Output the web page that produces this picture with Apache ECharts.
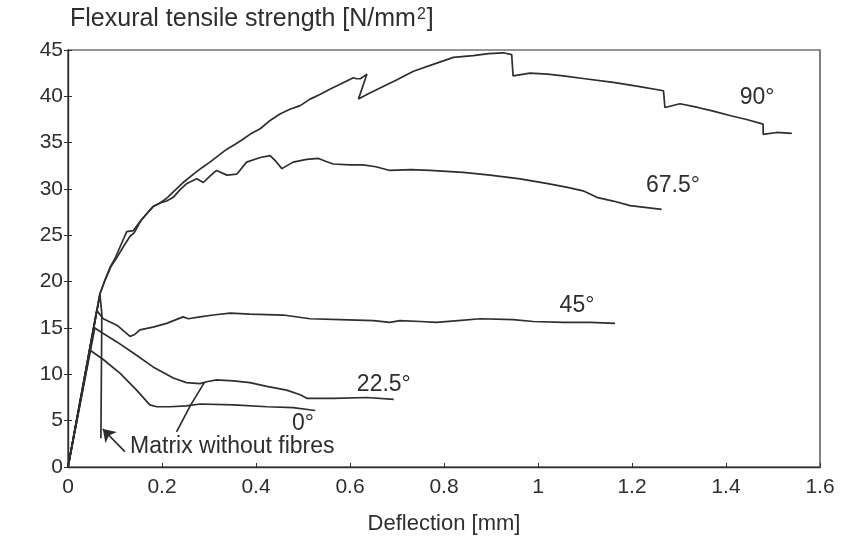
<!DOCTYPE html>
<html>
<head>
<meta charset="utf-8">
<script src="https://cdn.jsdelivr.net/npm/echarts@6/dist/echarts.min.js"></script>
<style>
  html, body { margin: 0; padding: 0; background: #ffffff; }
  #chart { width: 841px; height: 536px; }
</style>
</head>
<body>
<div id="chart"></div>
<script>
// Load–deflection curves of fibre-reinforced specimens, by fibre orientation
const curve90 = [
  [0, 0], [0.035, 9.6], [0.068, 18.7], [0.079, 20.2], [0.09, 21.6], [0.1, 22.5], [0.112, 23.9],
  [0.125, 25.4], [0.139, 25.5], [0.152, 26.4], [0.167, 27.3], [0.181, 28.1], [0.196, 28.5],
  [0.21, 29.0], [0.224, 29.7], [0.245, 30.7], [0.267, 31.6], [0.285, 32.3], [0.302, 32.9],
  [0.32, 33.6], [0.338, 34.3], [0.355, 34.8], [0.373, 35.4], [0.39, 36.0], [0.409, 36.5],
  [0.43, 37.4], [0.451, 38.1], [0.472, 38.6], [0.494, 39.0], [0.515, 39.7], [0.536, 40.2],
  [0.558, 40.8], [0.579, 41.3], [0.595, 41.7], [0.607, 42.0], [0.614, 41.9], [0.622, 41.9],
  [0.636, 42.4], [0.618, 39.7], [0.64, 40.3], [0.664, 40.9], [0.7, 41.8], [0.735, 42.7],
  [0.78, 43.5], [0.82, 44.2], [0.862, 44.4], [0.895, 44.6], [0.926, 44.7], [0.944, 44.5],
  [0.947, 42.2], [0.983, 42.5], [1.02, 42.4], [1.054, 42.2], [1.1, 41.9], [1.16, 41.5],
  [1.21, 41.1], [1.267, 40.6], [1.27, 38.8], [1.302, 39.2], [1.34, 38.8], [1.373, 38.4],
  [1.41, 37.9], [1.444, 37.5], [1.479, 37.0], [1.479, 35.9], [1.508, 36.1], [1.54, 36.0]
];
const curve675 = [
  [0, 0], [0.035, 9.6], [0.068, 18.7], [0.079, 20.2], [0.092, 21.7], [0.104, 22.6], [0.118, 23.8],
  [0.132, 24.9], [0.141, 25.3], [0.155, 26.6], [0.167, 27.3], [0.181, 28.1], [0.196, 28.5],
  [0.21, 28.7], [0.224, 29.1], [0.238, 29.9], [0.253, 30.6], [0.274, 31.1], [0.288, 30.7],
  [0.302, 31.4], [0.316, 32.0], [0.338, 31.5], [0.359, 31.6], [0.38, 32.9], [0.409, 33.4],
  [0.43, 33.6], [0.442, 33.0], [0.455, 32.2], [0.479, 32.9], [0.508, 33.2], [0.533, 33.3],
  [0.548, 33.0], [0.564, 32.7], [0.6, 32.6], [0.628, 32.6], [0.655, 32.4], [0.685, 32.0],
  [0.73, 32.1], [0.77, 32.0], [0.841, 31.8], [0.898, 31.5], [0.962, 31.1], [1.018, 30.6],
  [1.06, 30.2], [1.096, 29.8], [1.125, 29.1], [1.16, 28.7], [1.196, 28.2], [1.263, 27.8]
];
const curve45 = [
  [0, 0], [0.061, 16.9], [0.075, 16.0], [0.104, 15.3], [0.132, 14.1], [0.142, 14.3], [0.153, 14.8],
  [0.181, 15.1], [0.21, 15.5], [0.23, 15.9], [0.245, 16.2], [0.256, 16.0], [0.281, 16.2],
  [0.309, 16.4], [0.345, 16.6], [0.387, 16.5], [0.458, 16.4], [0.515, 16.0], [0.579, 15.9],
  [0.65, 15.8], [0.685, 15.6], [0.706, 15.8], [0.75, 15.7], [0.784, 15.6], [0.83, 15.8],
  [0.877, 16.0], [0.947, 15.9], [0.99, 15.7], [1.054, 15.6], [1.111, 15.6], [1.164, 15.5]
];
const curve225 = [
  [0, 0], [0.057, 15.0], [0.075, 14.4], [0.104, 13.5], [0.139, 12.3], [0.181, 10.8], [0.224, 9.6],
  [0.252, 9.1], [0.281, 9.0], [0.295, 9.2], [0.316, 9.4], [0.352, 9.3], [0.387, 9.1],
  [0.423, 8.7], [0.465, 8.3], [0.494, 7.8], [0.509, 7.4], [0.565, 7.4], [0.636, 7.5], [0.693, 7.3]
];
const curve0 = [
  [0, 0], [0.047, 12.6], [0.075, 11.6], [0.111, 10.1], [0.146, 8.3], [0.174, 6.7], [0.189, 6.5],
  [0.217, 6.5], [0.252, 6.6], [0.281, 6.8], [0.352, 6.7], [0.423, 6.5], [0.479, 6.4], [0.526, 6.1]
];
const matrixCurve = [[0, 0], [0.068, 18.6], [0.072, 16.5], [0.070, 3.1]];
const leaderLine = [[0.231, 3.8], [0.26, 6.6], [0.29, 9.1]];

// Curve names and where their captions sit (data units)
const curveLabels = ['90°', '67.5°', '45°', '22.5°', '0°'];
const curveLabelAnchors = [[1.466, 39.9], [1.287, 30.4], [1.083, 17.4], [0.672, 8.9], [0.5, 4.7]];
const matrixLabel = 'Matrix without fibres';
const matrixLabelAnchor = [0.132, 2.2];
const matrixArrow = [[0.121, 1.65], [0.074, 4.1]];

const xTicks = { min: 0, max: 1.6, step: 0.2 };
const yTicks = { min: 0, max: 45, step: 5 };

const INK = '#2e2e2e';
const TEXT = '#2e2e2e';
const FONT = '"Liberation Sans", Arial, sans-serif';

function curveSeries(name, data) {
  return {
    name, type: 'line', data, showSymbol: false, symbol: 'none', silent: true,
    lineStyle: { color: INK, width: 1.7 }, z: 3
  };
}

function captionSeries(items, align) {
  return {
    type: 'scatter', silent: true, symbolSize: 1, z: 5,
    itemStyle: { color: '#ffffff', opacity: 0 },
    data: items,
    label: {
      show: true, position: 'inside', formatter: p => p.name, opacity: 1,
      fontFamily: FONT, fontSize: 23, color: TEXT, align, verticalAlign: 'middle'
    }
  };
}

const chart = echarts.init(document.getElementById('chart'), null, { renderer: 'canvas' });

chart.setOption({
  animation: false,
  backgroundColor: '#ffffff',
  title: {
    text: 'Flexural tensile strength [N/mm{sup|2}]',
    left: 65, top: 2,
    textStyle: {
      fontFamily: FONT, fontSize: 25, fontWeight: 'normal', color: TEXT,
      rich: {
        sup: { fontFamily: FONT, fontSize: 16, color: TEXT, verticalAlign: 'top', padding: [0, 1, 0, 1] }
      }
    }
  },
  grid: {
    left: 68, right: 21, top: 50, bottom: 69,
    outerBoundsMode: 'none', containLabel: false,
    show: true, borderColor: INK, borderWidth: 1.2, backgroundColor: 'transparent'
  },
  xAxis: {
    type: 'value', min: xTicks.min, max: xTicks.max, interval: xTicks.step,
    name: 'Deflection [mm]', nameLocation: 'middle', nameGap: 46,
    nameTextStyle: { fontFamily: FONT, fontSize: 22, color: TEXT },
    axisLine: { lineStyle: { color: INK, width: 1.4 } },
    axisTick: { show: true, inside: true, length: 4, lineStyle: { color: INK } },
    axisLabel: { fontFamily: FONT, fontSize: 21, color: TEXT, margin: 10 },
    splitLine: { show: false }
  },
  yAxis: [
    {
      type: 'value', min: yTicks.min, max: yTicks.max, interval: yTicks.step,
      axisLine: { show: true, lineStyle: { color: INK, width: 1.4 } },
      axisTick: { show: true, length: 4, lineStyle: { color: INK } },
      axisLabel: { fontFamily: FONT, fontSize: 21, color: TEXT, margin: 5 },
      splitLine: { show: false }
    },
    {
      // inner half of the cross-shaped ticks on the left axis
      type: 'value', position: 'left', min: yTicks.min, max: yTicks.max, interval: yTicks.step,
      axisLine: { show: false },
      axisTick: { show: true, inside: true, length: 4, lineStyle: { color: INK } },
      axisLabel: { show: false },
      splitLine: { show: false }
    }
  ],
  series: [
    curveSeries('90°', curve90),
    curveSeries('67.5°', curve675),
    curveSeries('45°', curve45),
    curveSeries('22.5°', curve225),
    curveSeries('0°', curve0),
    curveSeries('Matrix without fibres', matrixCurve),
    curveSeries('leader', leaderLine),
    {
      type: 'lines', coordinateSystem: 'cartesian2d', silent: true, z: 4,
      symbol: ['none', 'arrow'], symbolSize: [0, 12],
      lineStyle: { color: INK, width: 1.7, opacity: 1 },
      itemStyle: { color: INK },
      data: [{ coords: matrixArrow }]
    },
    captionSeries(curveLabels.map((t, i) => ({ value: curveLabelAnchors[i], name: t })), 'center'),
    captionSeries([{ value: matrixLabelAnchor, name: matrixLabel }], 'left')
  ]
});
</script>
</body>
</html>
